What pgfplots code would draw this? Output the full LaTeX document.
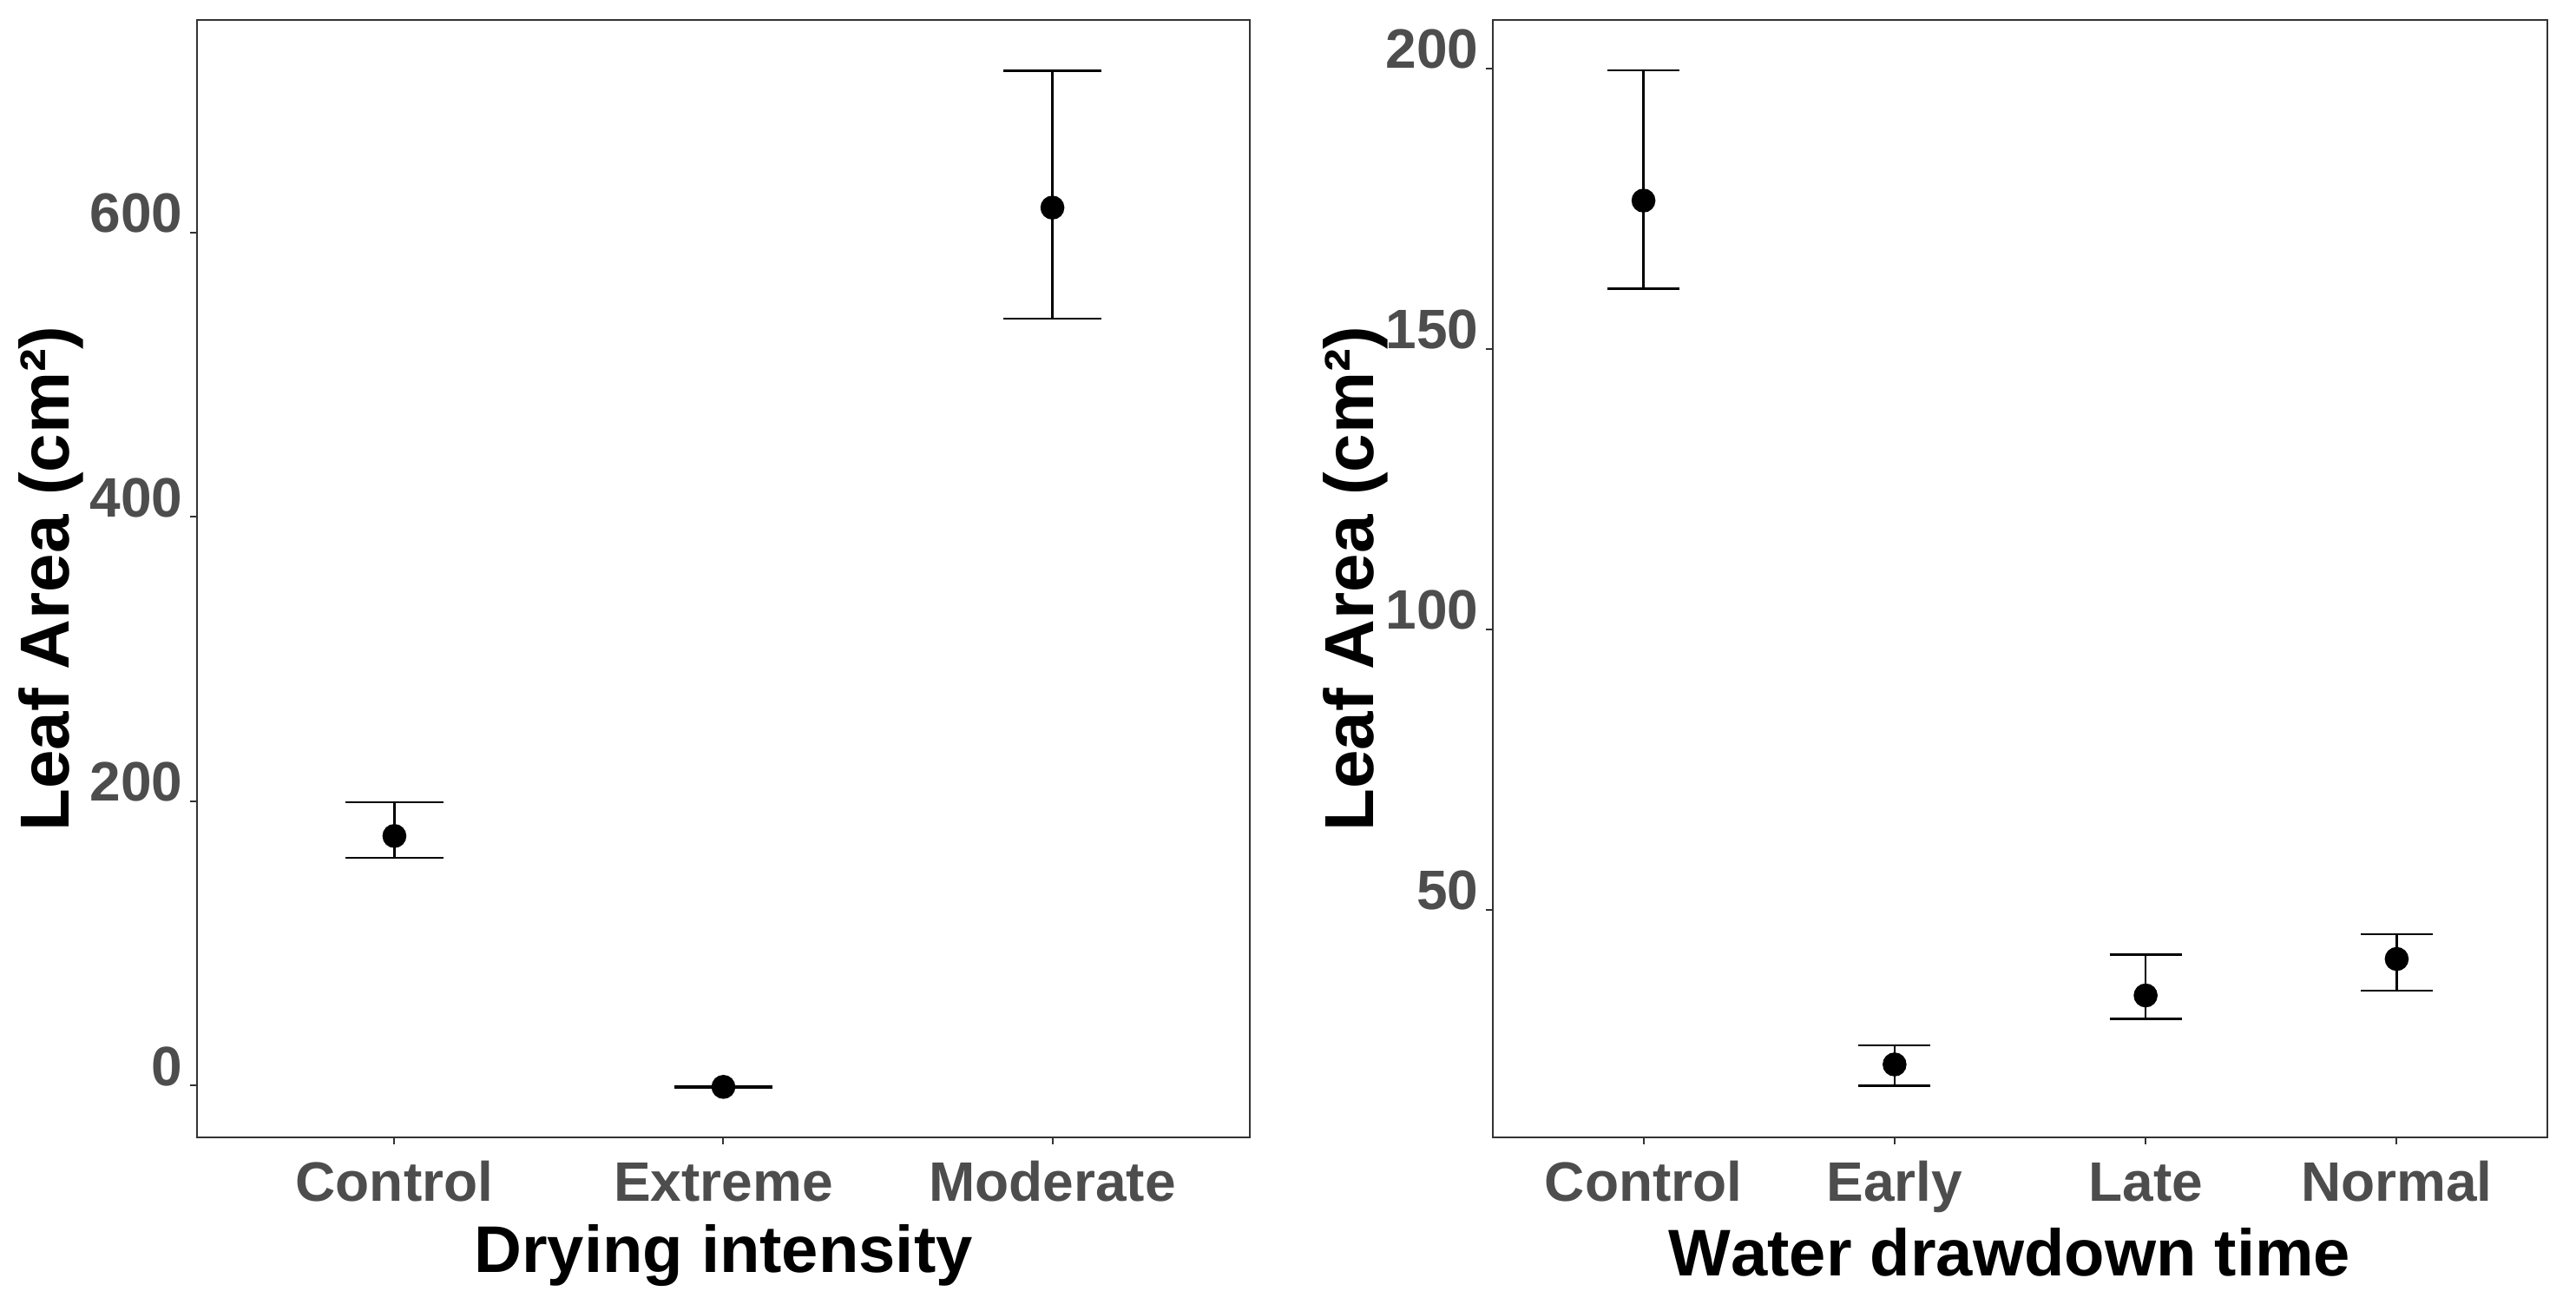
\documentclass[border=0pt]{standalone}
\usepackage{pgfplots}
\pgfplotsset{compat=1.18}
\usepackage{pgfplotstable}
\usepackage{fontspec}
\setmainfont{Liberation Sans}[Kerning=Off]

\definecolor{ticktext}{HTML}{4D4D4D}
\definecolor{frame}{HTML}{333333}

% mean, upper and lower error
\pgfplotstableread{
x y ep em
1 175.5 23.9 15.5
2 -1.0 0.5 0.5
3 617.5 96.3 78.0
}\drying

\pgfplotstableread{
x y ep em
1 176.4 23.2 15.7
2 22.4 3.4 3.8
3 34.7 7.3 4.2
4 41.2 4.4 5.6
}\drawdown

\pgfplotsset{
  ggbox/.style={
    scale only axis,
    height=321.75pt,
    clip=false,
    axis line style={frame, line width=0.4pt},
    tick align=outside,
    xtick pos=left, ytick pos=left,
    major tick length=2pt,
    tick style={frame, line width=0.5pt},
    xtick=data,
    /pgf/number format/assume math mode=true,
    ticklabel style={font=\fontsize{16}{19}\selectfont\bfseries, text=ticktext},
    yticklabel style={anchor=base east, inner sep=0pt, xshift=-2pt},
    xticklabel style={anchor=base, inner sep=0pt, yshift=-16.5pt},
    xlabel style={font=\fontsize{19}{23}\selectfont\bfseries, anchor=base},
    ylabel style={font=\fontsize{20}{24}\selectfont\bfseries, anchor=base},
  },
  errpts/.style={
    only marks, mark=*, mark size=3.25pt, black,
    mark options={fill=black, draw=black},
    error bars/.cd, y dir=both, y explicit,
    error bar style={line width=0.6pt, black},
    error mark options={rotate=90, line width=0.6pt, black, mark size=#1},
  },
}

\begin{document}
\begin{tikzpicture}
\path[use as bounding box] (0,0) rectangle (742pt,373.75pt);

\begin{axis}[
    ggbox,
    at={(56.75pt,46.25pt)}, anchor=south west,
    width=303.25pt,
    xmin=0.4, xmax=3.6,
    ymin=-36.5, ymax=749.5,
    ytick={0,200,400,600},
    xticklabels={Control, Extreme, Moderate},
    xlabel={Drying intensity},
    ylabel={Leaf Area (cm²)},
    xlabel style={at={(axis description cs:0.5,-0.1212)}},
    ylabel style={at={(axis description cs:-0.122,0.5)}},
]
\addplot+[errpts=14.1pt] table[x=x, y=y, y error plus=ep, y error minus=em] {\drying};
\end{axis}

\begin{axis}[
    ggbox,
    at={(430pt,46.25pt)}, anchor=south west,
    width=303.75pt,
    xmin=0.4, xmax=4.6,
    ymin=9.4, ymax=208.6,
    ytick={50,100,150,200},
    xticklabels={Control, Early, Late, Normal},
    xlabel={Water drawdown time},
    ylabel={Leaf Area (cm²)},
    xlabel style={at={(axis description cs:0.49,-0.1243)}},
    ylabel style={at={(axis description cs:-0.1135,0.5)}},
]
\addplot+[errpts=10.4pt] table[x=x, y=y, y error plus=ep, y error minus=em] {\drawdown};
\end{axis}
\end{tikzpicture}
\end{document}
